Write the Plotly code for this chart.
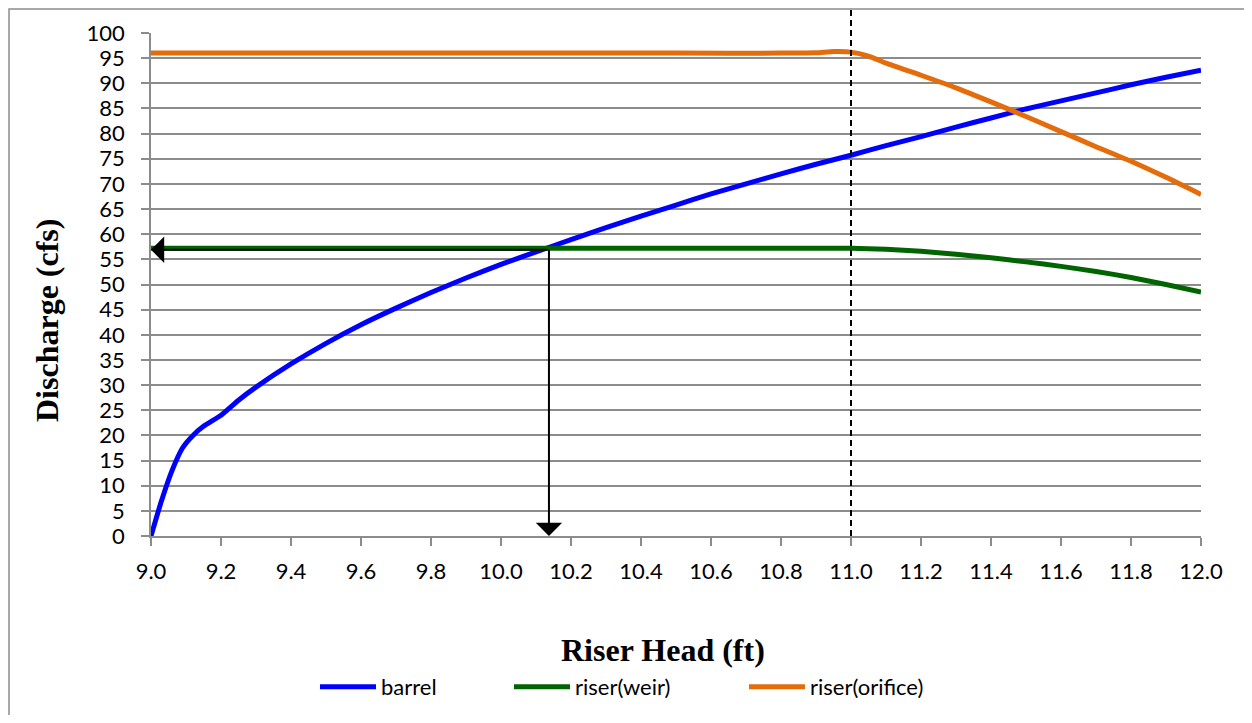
import plotly.graph_objects as go

# ---------------- data ----------------
barrel_x = [9.00, 9.03, 9.06, 9.09, 9.12, 9.15, 9.20, 9.25, 9.30, 9.40, 9.50, 9.60, 9.70, 9.80, 9.90,
            10.0, 10.1, 10.2, 10.3, 10.4, 10.5, 10.6, 10.7, 10.8, 10.9, 11.0, 11.1, 11.2, 11.3,
            11.4, 11.5, 11.6, 11.7, 11.8, 11.9, 12.0]
barrel_q = [0.0, 7.0, 13.0, 17.5, 20.0, 21.8, 24.0, 27.0, 29.6, 34.2, 38.3, 42.0, 45.3, 48.4, 51.3,
            54.0, 56.5, 58.9, 61.3, 63.6, 65.8, 68.0, 70.0, 72.0, 73.9, 75.7, 77.6, 79.4, 81.3,
            83.1, 84.9, 86.5, 88.1, 89.7, 91.2, 92.6]

weir_x = [9.0, 9.5, 10.0, 10.5, 11.0, 11.1, 11.2, 11.3, 11.4, 11.5, 11.6, 11.7, 11.8, 11.9, 12.0]
weir_q = [57.2, 57.2, 57.2, 57.2, 57.2, 57.0, 56.6, 56.0, 55.3, 54.5, 53.6, 52.6, 51.4, 50.0, 48.5]

orifice_x = [9.0, 9.5, 10.0, 10.5, 10.8, 10.9, 10.95, 11.0, 11.05, 11.1, 11.2, 11.3, 11.4, 11.5,
             11.6, 11.7, 11.8, 11.9, 12.0]
orifice_q = [96.0, 96.0, 96.0, 96.0, 96.0, 96.05, 96.3, 96.2, 95.4, 94.0, 91.6, 89.1, 86.3, 83.4,
             80.4, 77.4, 74.5, 71.3, 67.9]

series_names = ["barrel", "riser(weir)", "riser(orifice)"]
series_colors = ["#0000FF", "#006400", "#E46C0A"]

# design point (barrel meets riser weir) and riser transition head
design_head = 10.137
design_q = 57.2
transition_head = 11.0

x_range = [9.0, 12.0]
y_range = [0, 100]
x_ticks = [round(9.0 + 0.2 * i, 1) for i in range(16)]
x_ticklabels = ["%.1f" % v for v in x_ticks]
y_ticks = list(range(0, 101, 5))

x_title = "Riser Head (ft)"
y_title = "Discharge (cfs)"

# ---------------- figure ----------------
# page offset: the html body has an 8px margin
OFF = 8
W, H = 1252 - 2 * OFF, 723 - 2 * OFF
PL, PR, PT, PB = 151, 1201, 33, 536          # plot area in page pixels
ML, MT = PL - OFF, PT - OFF
PW, PH = PR - PL, PB - PT
MR, MB = W - ML - PW, H - MT - PH

def px_to_paper_x(px):
    return (px - PL) / PW

def px_to_paper_y(py):
    return (PB - py) / PH

tick_font = dict(family="Lato, Carlito, Calibri, sans-serif", size=22, color="#000000")
title_font = dict(family="Liberation Serif, Times New Roman, serif", size=32, color="#000000")
grid_col = "#8C8C8C"

fig = go.Figure()
legend_ids = ["legend", "legend2", "legend3"]
for (xs, ys), name, col, lg in zip([(barrel_x, barrel_q), (weir_x, weir_q), (orifice_x, orifice_q)],
                                    series_names, series_colors, legend_ids):
    fig.add_trace(go.Scatter(x=xs, y=ys, mode="lines", name=name,
                             line=dict(color=col, width=5, shape="spline", smoothing=0.5),
                             legend=lg, hoverinfo="x+y+name"))

leg_common = dict(orientation="h", yanchor="middle", xanchor="left", font=tick_font,
                  bgcolor="rgba(0,0,0,0)", itemwidth=56, tracegroupgap=0)
leg_y = px_to_paper_y(687)
fig.update_layout(
    legend=dict(x=px_to_paper_x(315), y=leg_y, **leg_common),
    legend2=dict(x=px_to_paper_x(509), y=leg_y, **leg_common),
    legend3=dict(x=px_to_paper_x(744), y=leg_y, **leg_common),
)

# reading arrows: from design point left to the Q axis and down to the head axis
fig.add_annotation(x=x_range[0], y=design_q - 0.3, ax=design_head, ay=design_q - 0.3,
                   xref="x", yref="y", axref="x", ayref="y", text="",
                   showarrow=True, arrowhead=1, arrowsize=2.2, arrowwidth=2, arrowcolor="#000000")
fig.add_annotation(x=design_head, y=y_range[0], ax=design_head, ay=design_q,
                   xref="x", yref="y", axref="x", ayref="y", text="",
                   showarrow=True, arrowhead=1, arrowsize=2.2, arrowwidth=2, arrowcolor="#000000")

# axis titles
fig.add_annotation(x=px_to_paper_x(663), y=px_to_paper_y(650), xref="paper", yref="paper",
                   text="<b>" + x_title + "</b>", font=title_font, showarrow=False,
                   xanchor="center", yanchor="middle")
fig.add_annotation(x=px_to_paper_x(47), y=px_to_paper_y(321), xref="paper", yref="paper",
                   text="<b>" + y_title + "</b>", font=title_font, showarrow=False,
                   textangle=-90, xanchor="center", yanchor="middle")

# dashed line at transition head
tx = (transition_head - x_range[0]) / (x_range[1] - x_range[0])
fig.add_shape(type="line", xref="paper", yref="paper", x0=tx, x1=tx,
              y0=0, y1=px_to_paper_y(10), line=dict(color="#000000", width=2, dash="6px,4px"))

# outer chart border (cropped on right/bottom)
fig.add_shape(type="rect", xref="paper", yref="paper",
              x0=px_to_paper_x(OFF + 1), x1=px_to_paper_x(1300),
              y0=px_to_paper_y(800), y1=px_to_paper_y(OFF + 1),
              line=dict(color="#8C8C8C", width=1.5), fillcolor="rgba(0,0,0,0)", layer="below")

fig.update_xaxes(range=x_range, tickvals=x_ticks, ticktext=x_ticklabels, showgrid=False,
                 showline=True, linecolor=grid_col, linewidth=1.5,
                 ticks="outside", ticklen=8, tickwidth=1.5, tickcolor=grid_col,
                 tickfont=tick_font, zeroline=False, ticklabelstandoff=7)
fig.update_yaxes(range=y_range, tickvals=y_ticks, showgrid=True, gridcolor=grid_col, gridwidth=1.5,
                 showline=True, linecolor=grid_col, linewidth=1.5,
                 ticks="outside", ticklen=8, tickwidth=1.5, tickcolor=grid_col,
                 tickfont=tick_font, zeroline=False, ticklabelstandoff=12)

fig.update_layout(width=W, height=H, margin=dict(l=ML, r=MR, t=MT, b=MB, autoexpand=False),
                  paper_bgcolor="#FFFFFF", plot_bgcolor="#FFFFFF", showlegend=True)

fig.write_html("out.html")
